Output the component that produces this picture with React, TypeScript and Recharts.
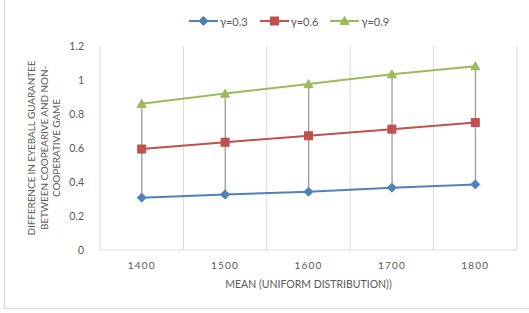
import { ComposedChart, Line, Bar, XAxis, YAxis, CartesianGrid, Legend } from "recharts";

const categories = ["1400", "1500", "1600", "1700", "1800"];
const gamma03 = [0.308, 0.327, 0.343, 0.366, 0.386];
const gamma06 = [0.594, 0.634, 0.672, 0.711, 0.75];
const gamma09 = [0.86, 0.92, 0.976, 1.034, 1.081];
const yTicks = [0, 0.2, 0.4, 0.6, 0.8, 1, 1.2];
const yTitle = ["DIFFERENCE IN EYEBALL GUARANTEE", "BETWEEN COOPEARIVE AND NON-", "COOPERATIVE GAME"];
const xTitle = "MEAN (UNIFORM DISTRIBUTION))";

const series = [
  { key: "g03", name: "γ=0.3", color: "#4F81BD", marker: "diamond" },
  { key: "g06", name: "γ=0.6", color: "#C0504D", marker: "square" },
  { key: "g09", name: "γ=0.9", color: "#9BBB59", marker: "triangle" },
];

const data = categories.map((name, i) => ({
  name,
  g03: gamma03[i],
  g06: gamma06[i],
  g09: gamma09[i],
  range: [gamma03[i], gamma09[i]],
}));

const font = "Lato, 'Open Sans', sans-serif";
const textColor = "#595959";

function Marker({ type, cx, cy, color }: { type: string; cx: number; cy: number; color: string }) {
  if (type === "diamond") {
    const r = 4.5;
    return <path d={`M${cx},${cy - r}L${cx + r},${cy}L${cx},${cy + r}L${cx - r},${cy}Z`} fill={color} stroke={color} />;
  }
  if (type === "square") {
    const r = 4;
    return <rect x={cx - r} y={cy - r} width={r * 2} height={r * 2} fill={color} stroke={color} />;
  }
  const r = 4.5;
  return <path d={`M${cx},${cy - r}L${cx + r},${cy + r * 0.8}L${cx - r},${cy + r * 0.8}Z`} fill={color} stroke={color} />;
}

function makeDot(type: string, color: string) {
  return (props: any) => {
    if (props.cx == null || props.cy == null) return <g key={props.key} />;
    return (
      <g key={props.key}>
        <Marker type={type} cx={props.cx} cy={props.cy} color={color} />
      </g>
    );
  };
}

// high-low line between lowest and highest series at each category
function HiLo(props: any) {
  const { x, y, width, height } = props;
  const cx = x + width / 2;
  const top = Math.min(y, y + height);
  const bottom = Math.max(y, y + height);
  return <line x1={cx} x2={cx} y1={top} y2={bottom} stroke="#9a9a9a" strokeWidth={1.3} />;
}

function LegendBox() {
  return (
    <div style={{ display: "flex", alignItems: "center", paddingLeft: 189, fontFamily: font, fontSize: 11, color: textColor, height: 20 }}>
      {series.map((s) => (
        <div key={s.key} style={{ display: "flex", alignItems: "center", marginRight: 12 }}>
          <svg width={29} height={12} style={{ marginRight: 2 }}>
            <line x1={0} x2={29} y1={6} y2={6} stroke={s.color} strokeWidth={2} />
            <Marker type={s.marker} cx={14.5} cy={6} color={s.color} />
          </svg>
          <span>{s.name}</span>
        </div>
      ))}
    </div>
  );
}

function YTitle(props: any) {
  const vb = props.viewBox || { y: 46, height: 204 };
  const cy = vb.y + vb.height / 2;
  const xs = [31, 43.5, 56];
  return (
    <g>
      {yTitle.map((t, i) => (
        <text
          key={t}
          x={xs[i]}
          y={cy}
          transform={`rotate(-90, ${xs[i]}, ${cy})`}
          textAnchor="middle"
          dominantBaseline="central"
          fontFamily={font}
          fontSize={10}
          letterSpacing={-0.1}
          fill={textColor}
        >
          {t}
        </text>
      ))}
    </g>
  );
}

function XTitle(props: any) {
  const vb = props.viewBox || { x: 100, y: 250, width: 417 };
  return (
    <text
      x={vb.x + vb.width / 2}
      y={284}
      textAnchor="middle"
      dominantBaseline="central"
      fontFamily={font}
      fontSize={10.5}
      fill={textColor}
    >
      {xTitle}
    </text>
  );
}

export default function App() {
  return (
    <div style={{ position: "absolute", left: 0, top: 0, width: 529, height: 313, background: "#fff", overflow: "hidden" }}>
      <div style={{ position: "absolute", left: 4, top: -2, width: 540, height: 309, border: "1px solid #d9d9d9" }} />
      <ComposedChart width={529} height={313} data={data} margin={{ top: 26, right: 12, bottom: 23, left: 0 }}>
        <CartesianGrid
          horizontal={false}
          stroke="#d9d9d9"
          verticalCoordinatesGenerator={(p: any) => {
            const off = p.offset;
            const out: number[] = [];
            for (let i = 0; i <= categories.length; i++) out.push(off.left + (off.width * i) / categories.length);
            return out;
          }}
        />
        <XAxis
          dataKey="name"
          axisLine={{ stroke: "#d9d9d9" }}
          tickLine={false}
          tickMargin={6}
          height={40}
          tick={{ fill: textColor, fontSize: 10, fontFamily: font, letterSpacing: 1.2 }}
          label={{ content: XTitle }}
        />
        <YAxis
          domain={[0, 1.2]}
          ticks={yTicks}
          width={100}
          axisLine={false}
          tickLine={false}
          tickMargin={10}
          tick={{ fill: textColor, fontSize: 10.5, fontFamily: font }}
          label={{ content: YTitle }}
        />
        <Legend verticalAlign="top" content={LegendBox} wrapperStyle={{ top: 11, left: 0, width: 529 }} />
        <Bar dataKey="range" legendType="none" shape={HiLo} isAnimationActive={false} />
        {series.map((s) => (
          <Line
            key={s.key}
            dataKey={s.key}
            name={s.name}
            stroke={s.color}
            strokeWidth={2}
            dot={makeDot(s.marker, s.color)}
            activeDot={false}
            isAnimationActive={false}
          />
        ))}
      </ComposedChart>
    </div>
  );
}
